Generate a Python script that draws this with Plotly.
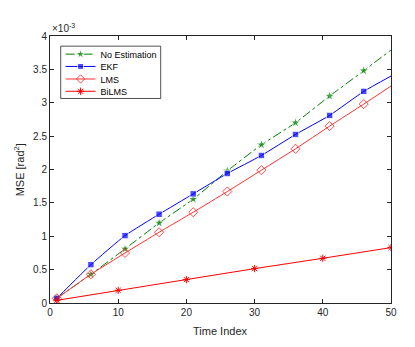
import plotly.graph_objects as go

# values in units of 1e-3 rad^2
x_marks = [1, 6, 11, 16, 21, 26, 31, 36, 41, 46, 50]
no_est = [0.07, 0.43, 0.81, 1.20, 1.555, 1.98, 2.37, 2.70, 3.10, 3.48, 3.79]
ekf = [0.07, 0.575, 1.01, 1.33, 1.635, 1.94, 2.21, 2.525, 2.81, 3.17, 3.40]
lms = [0.07, 0.43, 0.75, 1.06, 1.36, 1.67, 1.99, 2.31, 2.65, 2.98, 3.25]
x_bi = [1, 10, 20, 30, 40, 50]
bilms = [0.04, 0.19, 0.35, 0.515, 0.67, 0.83]

x_ticks = [0, 10, 20, 30, 40, 50]
y_ticks = [0, 0.5, 1, 1.5, 2, 2.5, 3, 3.5, 4]
y_ticktext = ["0", "0.5", "1", "1.5", "2", "2.5", "3", "3.5", "4"]

FONT = "Liberation Sans, Arial, sans-serif"
TXT = "#262626"

fig = go.Figure()

fig.add_trace(go.Scatter(
    x=x_marks, y=no_est, mode="lines+markers", name="No Estimation", legend="legend",
    line=dict(color="#008000", width=1, dash="dashdot", shape="spline", smoothing=0.4),
    marker=dict(symbol="star", size=[8]*10 + [0], color="#008000"),
))
fig.add_trace(go.Scatter(
    x=x_marks, y=ekf, mode="lines+markers", name="EKF", legend="legend2",
    line=dict(color="#0000ff", width=1, shape="spline", smoothing=0.4),
    marker=dict(symbol="square", size=[6.5]*10 + [0], color="#0000ff"),
))
fig.add_trace(go.Scatter(
    x=x_marks, y=lms, mode="lines+markers", name="LMS", legend="legend3",
    line=dict(color="#ff3030", width=1, shape="spline", smoothing=0.4),
    marker=dict(symbol="diamond-open", size=[7]*10 + [0], color="#ff0000", line=dict(width=1)),
))
fig.add_trace(go.Scatter(
    x=x_bi, y=bilms, mode="lines+markers", name="BiLMS", legend="legend4",
    line=dict(color="#ff0000", width=1),
    marker=dict(symbol="asterisk-open", size=6, color="#ff0000", line=dict(width=1, color="#ff0000")),
))

def leg(yc):
    return dict(
        x=0.031, y=yc, xanchor="left", yanchor="middle",
        borderwidth=0, bgcolor="rgba(0,0,0,0)",
        font=dict(size=9, color="#000000"), itemwidth=30,
    )

fig.update_layout(
    width=415, height=347,
    margin=dict(l=42, r=32, t=27.5, b=51.5),
    paper_bgcolor="white", plot_bgcolor="white",
    font=dict(family=FONT, size=10, color=TXT),
    showlegend=True,
    legend=leg(0.932), legend2=leg(0.886), legend3=leg(0.839), legend4=leg(0.793),
    shapes=[dict(type="rect", xref="paper", yref="paper",
                 x0=0.0314, x1=0.3246, y0=0.766, y1=0.962,
                 fillcolor="white", line=dict(color=TXT, width=0.8), layer="above")],
    xaxis=dict(
        range=[0, 50], tickvals=x_ticks, ticks="inside", ticklen=4,
        showline=True, linecolor=TXT, linewidth=1, mirror="ticks",
        showgrid=False, zeroline=False, tickcolor=TXT,
        tickfont=dict(size=10, color=TXT),
    ),
    yaxis=dict(
        range=[0, 4], tickvals=y_ticks, ticktext=y_ticktext, ticks="inside", ticklen=4,
        showline=True, linecolor=TXT, linewidth=1, mirror="ticks",
        showgrid=False, zeroline=False, tickcolor=TXT,
        tickfont=dict(size=10, color=TXT),
    ),
    annotations=[
        dict(text="Time Index", x=0.5, y=-0.075, xref="paper", yref="paper",
             xanchor="center", yanchor="top", showarrow=False,
             font=dict(size=11, color=TXT)),
        dict(text="MSE [rad<sup>2</sup>]", x=-0.065, y=0.5, xref="paper", yref="paper",
             xanchor="right", yanchor="middle", textangle=-90, showarrow=False,
             font=dict(size=11, color=TXT)),
        dict(text="×10<sup>-3</sup>", x=0.0, y=1.0, xref="paper", yref="paper",
             xanchor="left", yanchor="bottom", showarrow=False,
             font=dict(size=10, color=TXT)),
    ],
)

fig.write_html("out.html")
